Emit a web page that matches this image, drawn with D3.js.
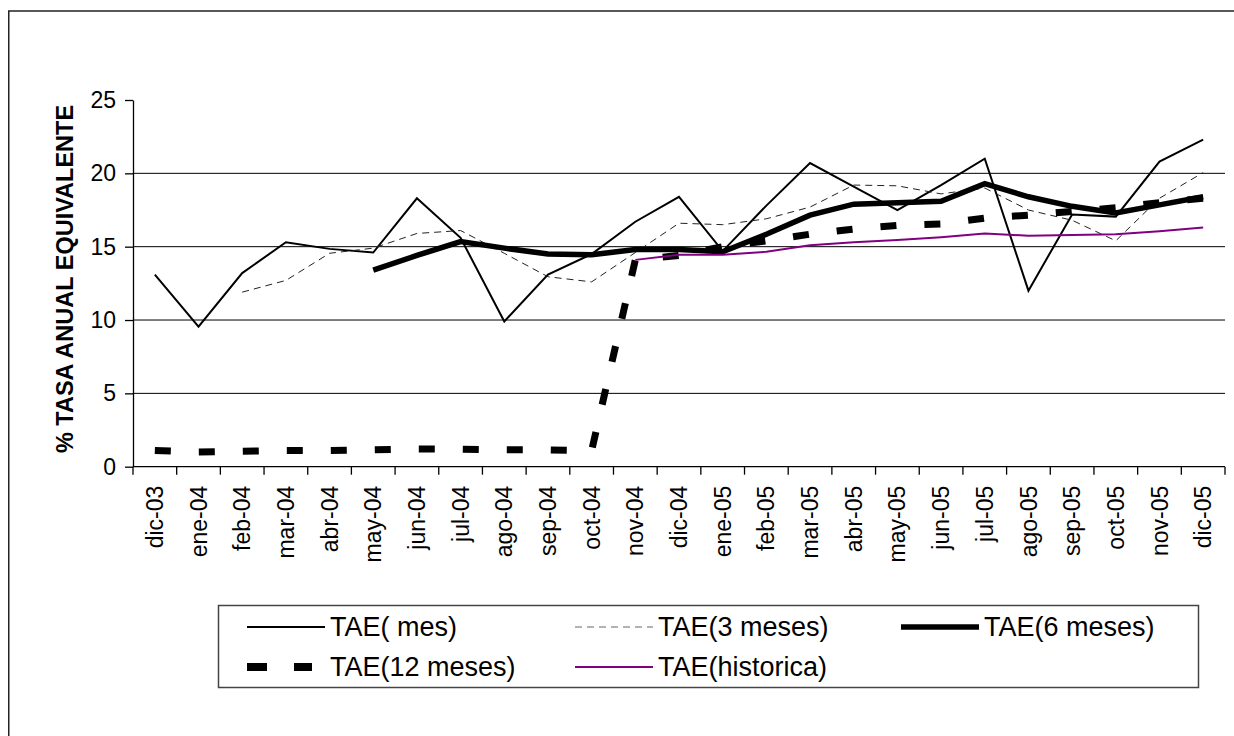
<!DOCTYPE html>
<meta charset="utf-8">
<style>
	body {
		margin: 0;
		background: #fff;
		font-family: "Liberation Sans", Arial, Helvetica, sans-serif;
	}
	.grid line {
		stroke: #000;
		stroke-width: 1px;
	}
	.axis path, .axis line {
		stroke: #000;
		stroke-width: 1.3px;
	}
	.serie {
		fill: none;
		stroke-linejoin: miter;
	}
</style>
<body>
<svg id="chart" width="1234" height="736"></svg>
<script src="https://cdn.jsdelivr.net/npm/d3@7/dist/d3.min.js"></script>
<script>
	// meses del eje x
	var months = ["dic-03","ene-04","feb-04","mar-04","abr-04","may-04","jun-04","jul-04","ago-04","sep-04","oct-04","nov-04","dic-04",
		"ene-05","feb-05","mar-05","abr-05","may-05","jun-05","jul-05","ago-05","sep-05","oct-05","nov-05","dic-05"];
	var yTicks = [0, 5, 10, 15, 20, 25];

	var taeMes = [13.1, 9.55, 13.2, 15.3, 14.85, 14.6, 18.3, 15.6, 9.9, 13.1, 14.5, 16.7, 18.4,
		14.7, 17.8, 20.7, 19.1, 17.5, 19.2, 21.0, 12.0, 17.2, 17.05, 20.8, 22.3];
	var tae3 = [null, null, 11.9, 12.7, 14.55, 14.9, 15.9, 16.1, 14.55, 12.95, 12.6, 14.6, 16.6,
		16.5, 16.9, 17.7, 19.2, 19.15, 18.6, 19.0, 17.5, 16.8, 15.4, 18.3, 20.05];
	var tae6 = [null, null, null, null, null, 13.4, 14.4, 15.35, 14.9, 14.5, 14.45, 14.8, 14.8,
		14.65, 15.85, 17.15, 17.9, 18.0, 18.1, 19.3, 18.4, 17.75, 17.3, 17.85, 18.4];
	var tae12 = [1.1, 1.0, 1.05, 1.1, 1.1, 1.15, 1.2, 1.2, 1.15, 1.15, 1.1, 14.1, 14.4,
		15.0, 15.4, 15.85, 16.2, 16.45, 16.55, 16.95, 17.15, 17.4, 17.65, 18.0, 18.3];
	var taeHist = [null, null, null, null, null, null, null, null, null, null, null, 14.1, 14.45,
		14.45, 14.65, 15.1, 15.3, 15.45, 15.65, 15.9, 15.75, 15.8, 15.85, 16.05, 16.3];

	var seriesNames = ["TAE( mes)", "TAE(3 meses)", "TAE(6 meses)", "TAE(12 meses)", "TAE(historica)"];
	var seriesValues = [taeMes, tae3, tae6, tae12, taeHist];
	// estilo de cada serie: color, grosor, guiones
	var seriesStyle = [
		{color: "#000", width: 2, dash: null},
		{color: "#222", width: 1, dash: "7,5"},
		{color: "#000", width: 5.5, dash: null},
		{color: "#000", width: 7, dash: "16,28"},
		{color: "#800080", width: 2, dash: null}
	];

	var svg = d3.select("#chart");
	var plotLeft = 133, plotRight = 1225, plotTop = 100, plotBottom = 466.7;

	// marco exterior
	svg.append("rect")
		.attr("x", 8.75).attr("y", 11)
		.attr("width", 1400).attr("height", 900)
		.attr("fill", "none").attr("stroke", "#222").attr("stroke-width", 1.5);

	var x = d3.scaleBand().domain(months).range([plotLeft, plotRight]).paddingInner(0).paddingOuter(0);
	var y = d3.scaleLinear().domain([0, 25]).range([plotBottom, plotTop]);

	// lineas de division
	svg.append("g").attr("class", "grid")
		.selectAll("line")
		.data(yTicks.filter(function(d) { return d > 0 && d < 25; }))
		.enter().append("line")
		.attr("x1", plotLeft).attr("x2", plotRight)
		.attr("y1", function(d) { return y(d); })
		.attr("y2", function(d) { return y(d); });

	// eje y
	var yAxis = d3.axisLeft(y).tickValues(yTicks).tickSize(8).tickSizeOuter(0).tickPadding(9);
	var gy = svg.append("g").attr("class", "axis").attr("transform", "translate(" + plotLeft + ",0)").call(yAxis);
	gy.selectAll("text").style("font-size", "23px").attr("fill", "#000").attr("font-family", "Liberation Sans, Arial, sans-serif");

	// eje x con marcas en los limites de cada mes
	var gx = svg.append("g").attr("class", "axis");
	gx.append("line").attr("x1", plotLeft).attr("x2", plotRight).attr("y1", plotBottom).attr("y2", plotBottom);
	gx.selectAll(".tk")
		.data(months.concat(["fin"]))
		.enter().append("line").attr("class", "tk")
		.attr("x1", function(d) { return d == "fin" ? plotRight : x(d); })
		.attr("x2", function(d) { return d == "fin" ? plotRight : x(d); })
		.attr("y1", plotBottom).attr("y2", plotBottom + 8);
	gx.selectAll("text")
		.data(months)
		.enter().append("text")
		.attr("transform", function(d) { return "translate(" + (x(d) + x.bandwidth() / 2) + "," + (plotBottom + 19) + ") rotate(-90)"; })
		.attr("text-anchor", "end")
		.attr("dy", "0.35em")
		.style("font-size", "23px")
		.text(function(d) { return d; });

	// titulo eje y
	svg.append("text")
		.attr("transform", "translate(73,279) rotate(-90)")
		.attr("text-anchor", "middle")
		.style("font-size", "23.5px")
		.style("font-weight", "bold")
		.text("% TASA ANUAL EQUIVALENTE");

	var line = d3.line()
		.defined(function(d) { return d != null; })
		.x(function(d, i) { return x(months[i]) + x.bandwidth() / 2; })
		.y(function(d) { return y(d); });

	seriesValues.forEach(function(vals, k) {
		var st = seriesStyle[k];
		svg.append("path")
			.attr("class", "serie")
			.attr("d", line(vals))
			.attr("stroke", st.color)
			.attr("stroke-width", st.width)
			.attr("stroke-dasharray", st.dash);
	});

	// leyenda
	var legend = svg.append("g");
	legend.append("rect")
		.attr("x", 218.5).attr("y", 605.5)
		.attr("width", 980).attr("height", 82)
		.attr("fill", "#fff").attr("stroke", "#444").attr("stroke-width", 1.5);

	var legX = [247, 575, 901], legY = [627, 667];
	seriesNames.forEach(function(name, k) {
		var st = seriesStyle[k];
		var lx = legX[k % 3], ly = legY[Math.floor(k / 3)];
		var len = k == 3 ? 65 : 78;
		legend.append("line")
			.attr("x1", lx).attr("x2", lx + len)
			.attr("y1", ly).attr("y2", ly)
			.attr("stroke", k == 1 ? "#666" : st.color)
			.attr("stroke-width", k == 3 ? 8 : st.width)
			.attr("stroke-dasharray", k == 3 ? "20,27" : st.dash);
		legend.append("text")
			.attr("x", lx + 83).attr("y", ly)
			.attr("dy", "0.35em")
			.style("font-size", "27px")
			.text(name);
	});
</script>
</body>
